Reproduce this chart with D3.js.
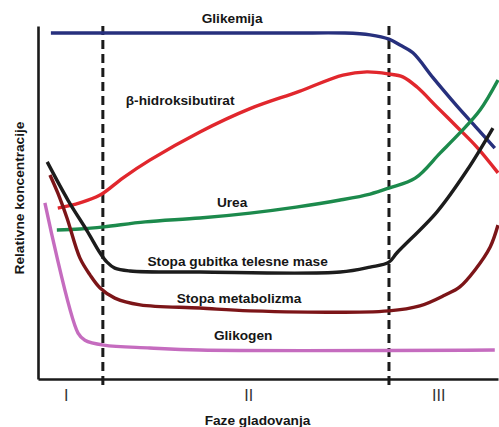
<!DOCTYPE html>
<html>
<head>
<meta charset="utf-8">
<script src="https://cdn.jsdelivr.net/npm/d3@7"></script>
<style>
  html, body { margin: 0; padding: 0; background: #fff; }
  svg { display: block; }
  text { font-family: "Liberation Sans", Arial, sans-serif; }
</style>
</head>
<body>
<svg id="chart" width="499" height="427"></svg>
<script>
// ---- data (x: relative time 0..100, y: relative concentration 0..100) ----
const glikemija = [[2.8,98.0],[30.0,98.0],[55.0,98.0],[66.7,98.0],[72.2,97.5],[76.3,96.3],[78.7,94.6],[81.5,92.4],[85.9,85.3],[91.1,77.3],[95.4,71.1],[99.3,65.4]];
const hidroksibutirat = [[4.3,48.4],[9.1,49.9],[13.5,52.1],[18.5,57.0],[24.3,62.0],[35.2,70.0],[46.1,76.6],[56.8,81.5],[66.3,86.1],[71.5,87.0],[76.3,86.4],[79.3,85.6],[82.4,82.7],[86.7,77.1],[91.1,71.4],[95.4,65.7],[100,58.4]];
const urea = [[4.1,42.2],[9.1,42.5],[14.3,43.1],[23.3,44.5],[35.2,45.6],[46.1,47.0],[56.1,48.7],[65.7,50.7],[72.2,52.4],[76.3,54.1],[82.0,56.9],[87.4,64.0],[91.7,69.7],[96.1,76.2],[100,84.7]];
const gubitakMase = [[2.0,61.5],[6.5,50.7],[10.7,41.9],[13.5,35.7],[15.0,33.1],[16.7,31.4],[20.0,30.6],[35.2,30.3],[65.7,30.3],[72.2,31.7],[76.3,33.1],[78.0,35.7],[86.7,47.3],[93.3,59.2],[98.9,71.1]];
const metabolizam = [[2.6,57.8],[4.3,52.7],[6.3,45.6],[9.1,34.3],[11.3,29.5],[13.5,25.8],[16.7,22.9],[22.2,21.0],[35.2,20.1],[46.1,19.3],[76.3,19.3],[83.0,20.7],[88.5,23.8],[91.7,26.1],[95.0,30.9],[98.3,37.4],[100,43.6]];
const glikogen = [[1.5,49.9],[8.7,13.0],[10.2,11.0],[14.3,9.6],[24.3,8.8],[35.2,8.2],[99.3,8.2]];

const seriesNames = ["Glikemija","β-hidroksibutirat","Urea","Stopa gubitka telesne mase","Stopa metabolizma","Glikogen"];
const seriesData = [glikemija, hidroksibutirat, urea, gubitakMase, metabolizam, glikogen];
const seriesColors = ["#27307d","#e1272d","#1c8a4c","#1c1c1c","#7c1518","#c56cbf"];
// label anchor positions in data units
const labelX = [42.2, 30.9, 42.2, 43.4, 43.7, 44.6];
const labelY = [100.8, 77.6, 48.7, 32.0, 21.5, 11.0];

const phaseBounds = [14.1, 76.3];
const phaseNames = ["I","II","III"];
const phaseTicks = [6.0, 45.7, 87.0];

const xTitle = "Faze gladovanja";
const yTitle = "Relativne koncentracije";

// ---- scales ----
const svg = d3.select("#chart");
const x = d3.scaleLinear().domain([0,100]).range([38,498]);
const y = d3.scaleLinear().domain([0,100]).range([379,26]);

// ---- axes ----
const xAxis = d3.axisBottom(x).tickValues(phaseTicks)
  .tickFormat((d,i) => phaseNames[i]).tickSize(0).tickSizeOuter(0).tickPadding(11);
const gx = svg.append("g").attr("transform", `translate(0,${y(0)})`).call(xAxis);
gx.select(".domain").attr("stroke","#1a1a1a").attr("stroke-width",2.6);
gx.selectAll(".tick text").attr("font-size",16).attr("fill","#333")
  .attr("font-family","\"Liberation Sans\", Arial, sans-serif");

const yAxis = d3.axisLeft(y).tickValues([]).tickSizeOuter(0);
const gy = svg.append("g").attr("transform", `translate(${x(0)},0)`).call(yAxis);
gy.select(".domain").attr("stroke","#1a1a1a").attr("stroke-width",2.6);

// ---- phase boundaries ----
svg.selectAll("line.phase").data(phaseBounds).enter().append("line")
  .attr("class","phase")
  .attr("x1", d => x(d)).attr("x2", d => x(d))
  .attr("y1", y(100)).attr("y2", y(0) + 11)
  .attr("stroke","#1a1a1a").attr("stroke-width",3)
  .attr("stroke-dasharray","9,5");

// ---- series lines ----
const line = d3.line().x(d => x(d[0])).y(d => y(d[1])).curve(d3.curveCatmullRom.alpha(0.5));
svg.selectAll("path.series").data(seriesData).enter().append("path")
  .attr("class","series")
  .attr("d", line)
  .attr("fill","none")
  .attr("stroke", (d,i) => seriesColors[i])
  .attr("stroke-width", 3.4)
  .attr("stroke-linejoin","round")
  .attr("stroke-linecap","butt");

// ---- series labels ----
svg.selectAll("text.slabel").data(seriesNames).enter().append("text")
  .attr("class","slabel")
  .attr("x", (d,i) => x(labelX[i]))
  .attr("y", (d,i) => y(labelY[i]))
  .attr("text-anchor","middle")
  .attr("font-size",13.7).attr("font-weight","bold").attr("fill","#161616")
  .text(d => d);

// ---- axis titles ----
svg.append("text").attr("x", 257.5).attr("y", 425)
  .attr("text-anchor","middle").attr("font-size",13.7).attr("font-weight","bold")
  .attr("fill","#161616").text(xTitle);
svg.append("text").attr("transform","translate(24,198) rotate(-90)")
  .attr("text-anchor","middle").attr("font-size",13.7).attr("font-weight","bold")
  .attr("fill","#161616").text(yTitle);
</script>
</body>
</html>
